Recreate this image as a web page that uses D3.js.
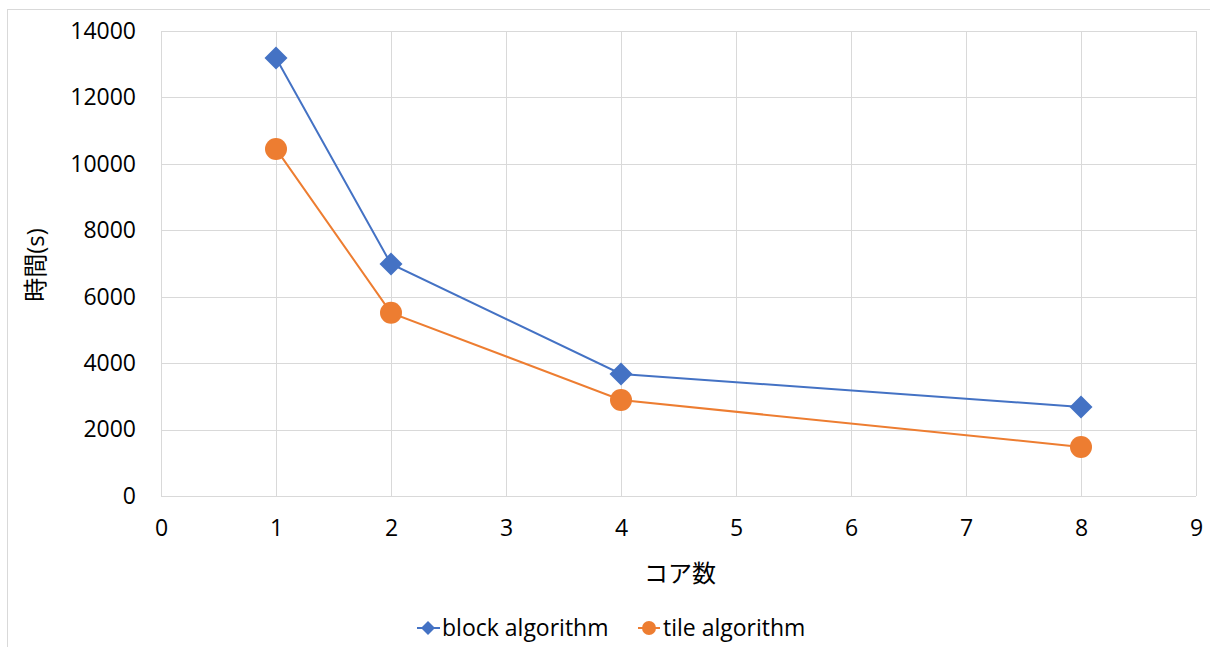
<!DOCTYPE html>
<html><head><meta charset="utf-8">
<script src="https://cdn.jsdelivr.net/npm/d3@7/dist/d3.min.js"></script>
<style>body{margin:0;background:#fff;} text{font-family:"Open Sans","Noto Sans CJK JP",sans-serif;fill:#000;}</style>
</head><body>
<script>
const cores = [1, 2, 4, 8];
const blockTimes = [13190, 6985, 3675, 2680];
const tileTimes = [10450, 5515, 2890, 1475];
const seriesNames = ["block algorithm", "tile algorithm"];
const xTicks = [0,1,2,3,4,5,6,7,8,9];
const yTicks = [0,2000,4000,6000,8000,10000,12000,14000];
const colors = ["#4472c4", "#ed7d31"];

const W = 1210, H = 647;
const svg = d3.select("body").append("svg").attr("width", W).attr("height", H);
svg.append("rect").attr("x",7.5).attr("y",9.5).attr("width",W+10).attr("height",H+10)
  .attr("fill","#fff").attr("stroke","#d9d9d9");

const x = d3.scaleLinear().domain([0,9]).range([161,1196]);
const y = d3.scaleLinear().domain([0,14000]).range([496,31]);

const grid = svg.append("g");
grid.selectAll(".vx").data(xTicks).join("line")
  .attr("x1",d=>Math.round(x(d))+0.5).attr("x2",d=>Math.round(x(d))+0.5)
  .attr("y1",y(14000)).attr("y2",y(0)).attr("stroke","#d9d9d9").attr("stroke-width",1);
grid.selectAll(".hy").data(yTicks).join("line")
  .attr("y1",d=>Math.round(y(d))+0.5).attr("y2",d=>Math.round(y(d))+0.5)
  .attr("x1",x(0)).attr("x2",x(9)).attr("stroke","#d9d9d9").attr("stroke-width",1);

// axes (labels only)
const xa = svg.append("g").attr("transform",`translate(0,${y(0)})`)
  .call(d3.axisBottom(x).tickValues(xTicks).tickSize(0).tickPadding(24));
xa.select(".domain").remove();
xa.selectAll("text").style("font-size","23px").style("font-family","Open Sans");
const ya = svg.append("g").attr("transform",`translate(${x(0)},0)`)
  .call(d3.axisLeft(y).tickValues(yTicks).tickFormat(d3.format("d")).tickSize(0).tickPadding(25));
ya.select(".domain").remove();
ya.selectAll("text").style("font-size","23px").style("font-family","Open Sans");

const line = d3.line().x((d,i)=>x(cores[i])).y(d=>y(d));
const series = [blockTimes, tileTimes];
series.forEach((s,k)=>{
  svg.append("path").datum(s).attr("d",line).attr("fill","none")
    .attr("stroke",colors[k]).attr("stroke-width",2);
});
// markers
svg.selectAll(".dia").data(blockTimes).join("path")
  .attr("transform",(d,i)=>`translate(${x(cores[i])},${y(d)})`)
  .attr("d","M0,-11.5L11.5,0L0,11.5L-11.5,0Z").attr("fill",colors[0]);
svg.selectAll(".cir").data(tileTimes).join("circle")
  .attr("cx",(d,i)=>x(cores[i])).attr("cy",d=>y(d)).attr("r",11).attr("fill",colors[1]);

// axis titles
svg.append("text").attr("x",680).attr("y",582).attr("text-anchor","middle")
  .style("font-size","24px").text("コア数");
svg.append("text").attr("transform","translate(44,265) rotate(-90)").attr("text-anchor","middle")
  .style("font-size","24px").text("時間(s)");

// legend
const lg = svg.append("g");
lg.append("line").attr("x1",417).attr("x2",440).attr("y1",628).attr("y2",628).attr("stroke",colors[0]).attr("stroke-width",2);
lg.append("path").attr("transform","translate(428,628)").attr("d","M0,-7L7,0L0,7L-7,0Z").attr("fill",colors[0]);
lg.append("text").attr("x",442).attr("y",636).style("font-size","23px").text(seriesNames[0]);
lg.append("line").attr("x1",638).attr("x2",660).attr("y1",628).attr("y2",628).attr("stroke",colors[1]).attr("stroke-width",2);
lg.append("circle").attr("cx",649).attr("cy",628).attr("r",7).attr("fill",colors[1]);
lg.append("text").attr("x",663).attr("y",636).style("font-size","23px").text(seriesNames[1]);
</script>
</body></html>
